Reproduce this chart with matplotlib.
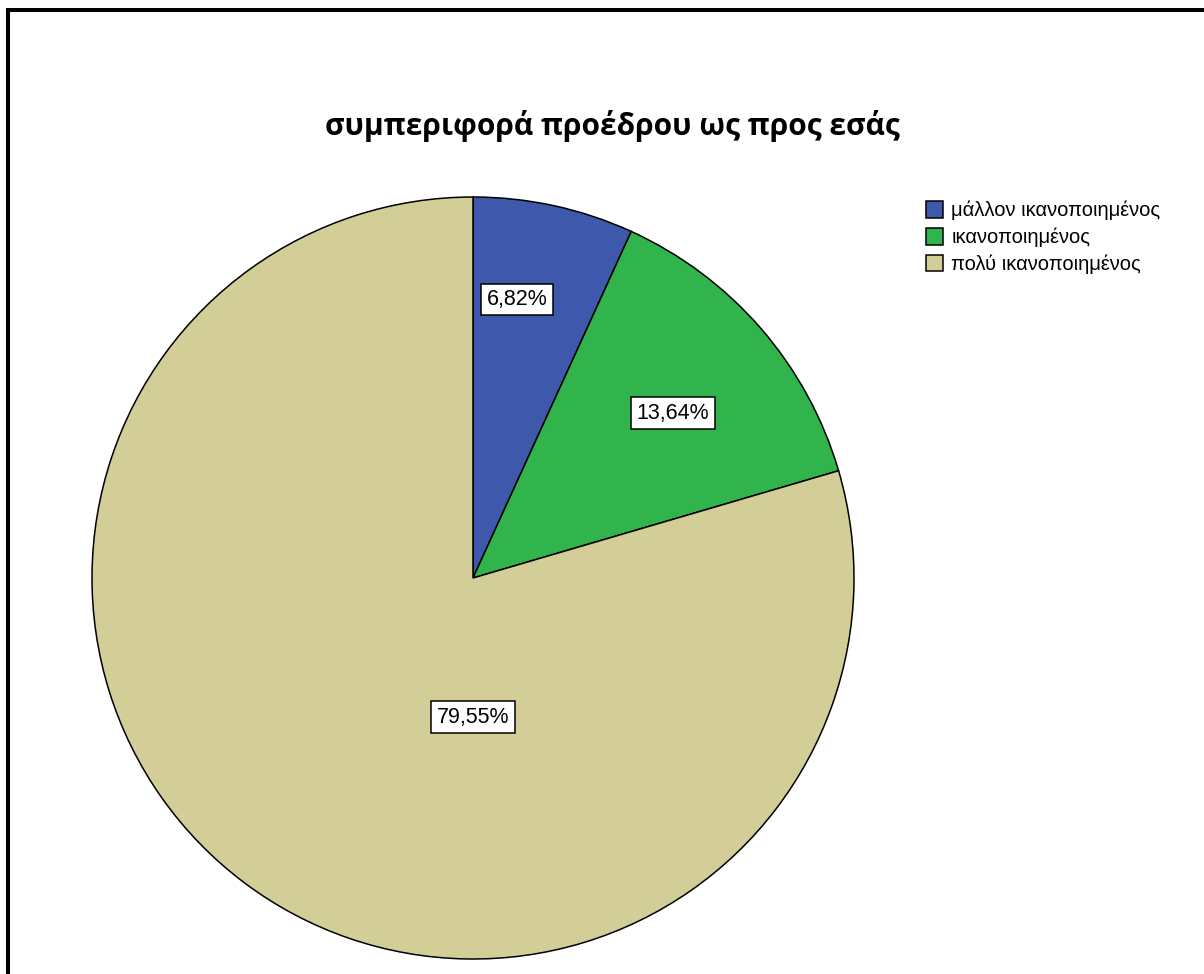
import math
import matplotlib
matplotlib.use("Agg")
import matplotlib.pyplot as plt
from matplotlib.patches import Rectangle, Patch

# Response categories and their share of answers (%)
categories = ["μάλλον ικανοποιημένος", "ικανοποιημένος", "πολύ ικανοποιημένος"]
percentages = [6.82, 13.64, 79.55]
colors = ["#3e58ac", "#31b44b", "#d3ce97"]
title = "συμπεριφορά προέδρου ως προς εσάς"

# Label placement inside each wedge (radius fraction, angle in degrees)
label_pos = [(0.74, 81.0), (0.68, 39.5), (0.365, -90.0)]

W, H = 1204, 974
fig = plt.figure(figsize=(W / 100, H / 100), dpi=100)
fig.patch.set_facecolor("white")

# Outer frame (open to the right and bottom, as in the exported chart)
fig.add_artist(Rectangle((8 / W, -0.1), 1.2, (H - 10) / H + 0.1,
                         transform=fig.transFigure, fill=False,
                         edgecolor="black", linewidth=2.9))

fig.text(612 / W, 1 - 126 / H, title, ha="center", va="center",
         fontsize=21.5, fontweight="bold", family=["Open Sans", "DejaVu Sans"])

cx, cy, r = 473, 578, 381
ax = fig.add_axes([(cx - r) / W, 1 - (cy + r) / H, 2 * r / W, 2 * r / H])
wedges, _ = ax.pie(percentages, colors=colors, startangle=90, counterclock=False,
                   radius=1.0,
                   wedgeprops=dict(edgecolor="black", linewidth=1.1))
for w in wedges:
    w.set_clip_on(False)
ax.set_xlim(-1, 1)
ax.set_ylim(-1, 1)
ax.set_aspect("equal")
ax.axis("off")

for pct, (rad, ang) in zip(percentages, label_pos):
    x = rad * math.cos(math.radians(ang))
    y = rad * math.sin(math.radians(ang))
    ax.text(x, y, f"{pct:.2f}%".replace(".", ","), ha="center", va="center",
            fontsize=15.5, family=["Liberation Sans", "DejaVu Sans"],
            bbox=dict(boxstyle="square,pad=0.25", facecolor="white",
                      edgecolor="black", linewidth=1.1))

handles = [Patch(facecolor=c, edgecolor="black", linewidth=1.1) for c in colors]
fig.legend(handles, categories, loc="upper left",
           bbox_to_anchor=(926 / W, 1 - 201 / H), frameon=False,
           prop=dict(family=["Liberation Sans", "DejaVu Sans"], size=14.5),
           handlelength=0.85, handleheight=0.85, handletextpad=0.4,
           labelspacing=0.37, borderpad=0, borderaxespad=0)

fig.savefig("out.png", dpi=100)
